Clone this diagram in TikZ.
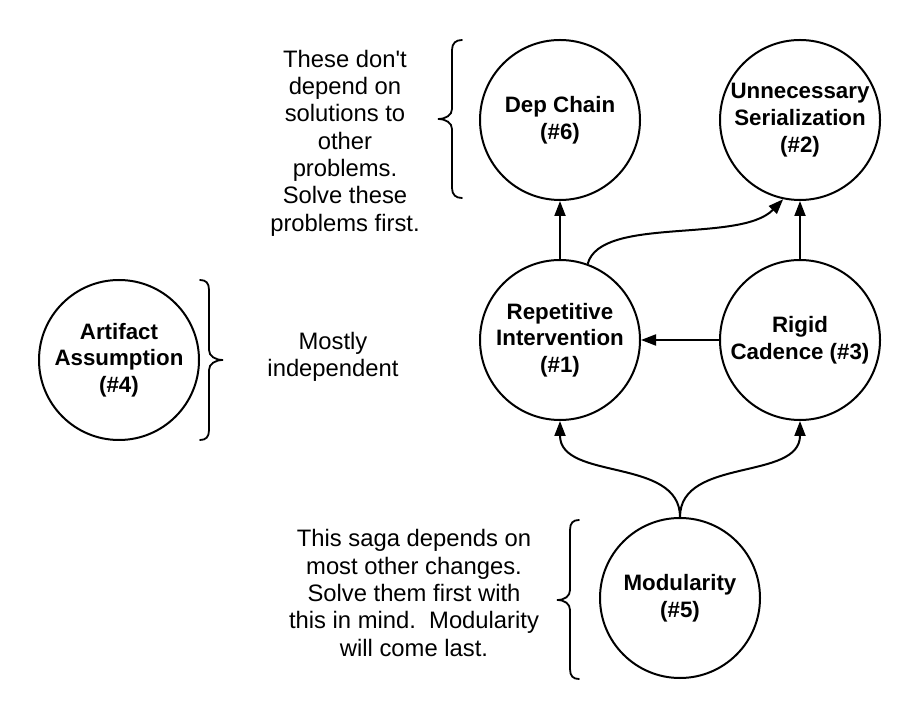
\documentclass[tikz,border=0pt]{standalone}
\usepackage{fontspec}
\newfontfamily\lib{Liberation Sans}
\usetikzlibrary{arrows.meta}
\begin{document}
\begin{tikzpicture}[x=1pt,y=1pt,
  prob/.style={circle,draw,line width=2pt,minimum size=160pt,inner sep=0pt,align=center,
    font=\lib\bfseries\fontsize{22.3pt}{26.7pt}\selectfont},
  note/.style={align=center,inner sep=0pt,font=\lib\fontsize{23.8pt}{27.3pt}\selectfont},
  link/.style={line width=2pt,-{Triangle[length=15pt,width=11pt]}},
  bracestyle/.style={line width=1.8pt,line cap=round}]
\useasboundingbox (0,0) rectangle (920,720);

% problem circles
\node[prob] (dep) at (560,600) {Dep Chain\\(\#6)};
\node[prob] (unn) at (800,600) {Unnecessary\\Serialization\\(\#2)};
\node[prob] (rep) at (560,380) {Repetitive\\Intervention\\(\#1)};
\node[prob] (rig) at (800,380) {Rigid\\Cadence (\#3)};
\node[prob] (art) at (119,360) {Artifact\\Assumption\\(\#4)};
\node[prob] (mod) at (680,122) {Modularity\\(\#5)};

% notes
\node[note] (ntop) at (345,577) {These don't\\depend on\\solutions to\\other\\problems.\\Solve these\\problems first.};
\node[note] (nmid) at (333,363) {Mostly\\independent};
\node[note] (nbot) at (414,127) {This saga depends on\\most other changes.\\Solve them first with\\this in mind.\ \ Modularity\\will come last.};

% connectors
\draw[link] (rep.north) -- (dep.south);
\draw[link] (rig.north) -- (unn.south);
\draw[link] (rig.west) -- (rep.east);
\draw[link] (rep.70) .. controls +(75:50) and +(226:62) .. (unn.258);
\draw[link] (mod.north) to[out=90,in=-90] (rep.south);
\draw[link] (mod.north) to[out=90,in=-90] (rig.south);

% braces
\draw[bracestyle] (462,680) .. controls (456,680) and (452,677) .. (452,670)
  -- (452,611) .. controls (452,605) and (446,601) .. (438,601)
  .. controls (446,601) and (452,597) .. (452,591)
  -- (452,532) .. controls (452,525) and (456,522) .. (462,522);
\draw[bracestyle] (200,440) .. controls (206,440) and (209,437) .. (209,430)
  -- (209,370) .. controls (209,364) and (215,360) .. (223,360)
  .. controls (215,360) and (209,356) .. (209,350)
  -- (209,290) .. controls (209,283) and (206,280) .. (200,280);
\draw[bracestyle] (579,200) .. controls (573,200) and (570,197) .. (570,190)
  -- (570,130) .. controls (570,124) and (565,120) .. (557,120)
  .. controls (565,120) and (570,116) .. (570,110)
  -- (570,51) .. controls (570,44) and (573,41) .. (579,41);
\end{tikzpicture}
\end{document}
